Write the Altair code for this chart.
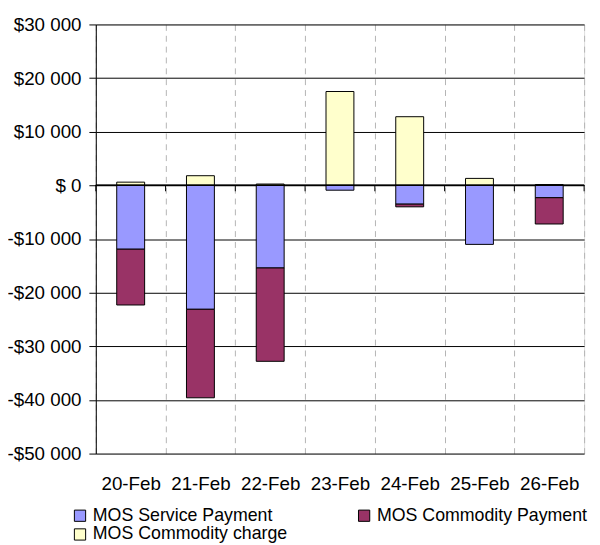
import altair as alt
import pandas as pd

cats = ["20-Feb", "21-Feb", "22-Feb", "23-Feb", "24-Feb", "25-Feb", "26-Feb"]
series = ["MOS Service Payment", "MOS Commodity Payment", "MOS Commodity charge"]
service = [-11900, -23100, -15400, -900, -3500, -11000, -2300]
commodity = [-10400, -16500, -17400, 0, -500, 0, -4900]
charge = [600, 1800, 250, 17500, 12800, 1300, 150]
colors = ["#9999FF", "#993366", "#FFFFCC"]
y_ticks = [-50000, -40000, -30000, -20000, -10000, 0, 10000, 20000, 30000]

rows = []
for k, (s, vals) in enumerate(zip(series, [service, commodity, charge])):
    for i, c in enumerate(cats):
        if vals[i] != 0:
            rows.append({"date": c, "series": s, "value": vals[i], "ord": k})
df = pd.DataFrame(rows)
cat_df = pd.DataFrame({"date": cats})

FONT = "Liberation Sans"
FS = 19
W, H = 495, 435
ymin, ymax = -50000, 30000
tick_len = -1100  # zero-line tick marks, in data units (~6px)

xscale = alt.Scale(domain=cats, paddingInner=0, paddingOuter=0)
yscale = alt.Scale(domain=[ymin, ymax], nice=False, zero=False)

label_expr = ("datum.value == 0 ? '$ 0' : (datum.value < 0 ? '-$' : '$') + "
              "replace(format(abs(datum.value), ','), ',', ' ')")

yaxis = alt.Axis(values=y_ticks, labelExpr=label_expr, title=None,
                 labelFont=FONT, labelFontSize=FS, labelColor="black",
                 grid=True, gridColor="black", gridWidth=1,
                 domain=True, domainColor="black", ticks=True, tickColor="black",
                 tickSize=7, labelPadding=8)

xaxis_main = alt.Axis(title=None, labelFont=FONT, labelFontSize=FS, labelColor="black",
                      labelAngle=0, ticks=False, domain=False, grid=True,
                      gridDash=[6, 5], gridColor="#b4b4b4", gridWidth=1,
                      tickBand="extent", labelPadding=21)

bars = alt.Chart(df).mark_bar(stroke="black", strokeWidth=1,
                              width=alt.RelativeBandSize(0.4)).encode(
    x=alt.X("date:N", scale=xscale, sort=cats, axis=xaxis_main),
    y=alt.Y("sum(value):Q", scale=yscale, axis=yaxis, stack="zero"),
    color=alt.Color("series:N", scale=alt.Scale(domain=series, range=colors),
                    legend=alt.Legend(orient="none", legendX=-25, legendY=489,
                                      direction="horizontal",
                                      columns=2, title=None, symbolType="square",
                                      symbolSize=130, symbolStrokeColor="black",
                                      symbolStrokeWidth=1, labelFont=FONT,
                                      labelFontSize=18, labelColor="black",
                                      labelLimit=0,
                                      columnPadding=68, rowPadding=1,
                                      labelOffset=4)),
    order=alt.Order("ord:Q", sort="ascending"),
)

ticks_start = alt.Chart(cat_df).mark_rule(color="black", strokeWidth=1).encode(
    x=alt.X("date:N", scale=xscale, sort=cats, bandPosition=0),
    y=alt.datum(0, scale=yscale),
    y2=alt.datum(tick_len),
)
ticks_end = alt.Chart(cat_df.tail(1)).mark_rule(color="black", strokeWidth=1).encode(
    x=alt.X("date:N", scale=xscale, sort=cats, bandPosition=1),
    y=alt.datum(0, scale=yscale),
    y2=alt.datum(tick_len),
)
zero_line = alt.Chart(cat_df).mark_rule(color="black", strokeWidth=1).encode(
    y=alt.datum(0, scale=yscale),
)

chart = alt.layer(bars, zero_line, ticks_start, ticks_end).properties(
    width=W, height=H,
    autosize=alt.AutoSizeParams(type="none"),
    padding={"left": 89, "top": 13, "right": 8, "bottom": 89},
).configure_view(stroke=None).configure(background="white")

chart.save("out.html", embed_options={"renderer": "svg", "actions": False})
